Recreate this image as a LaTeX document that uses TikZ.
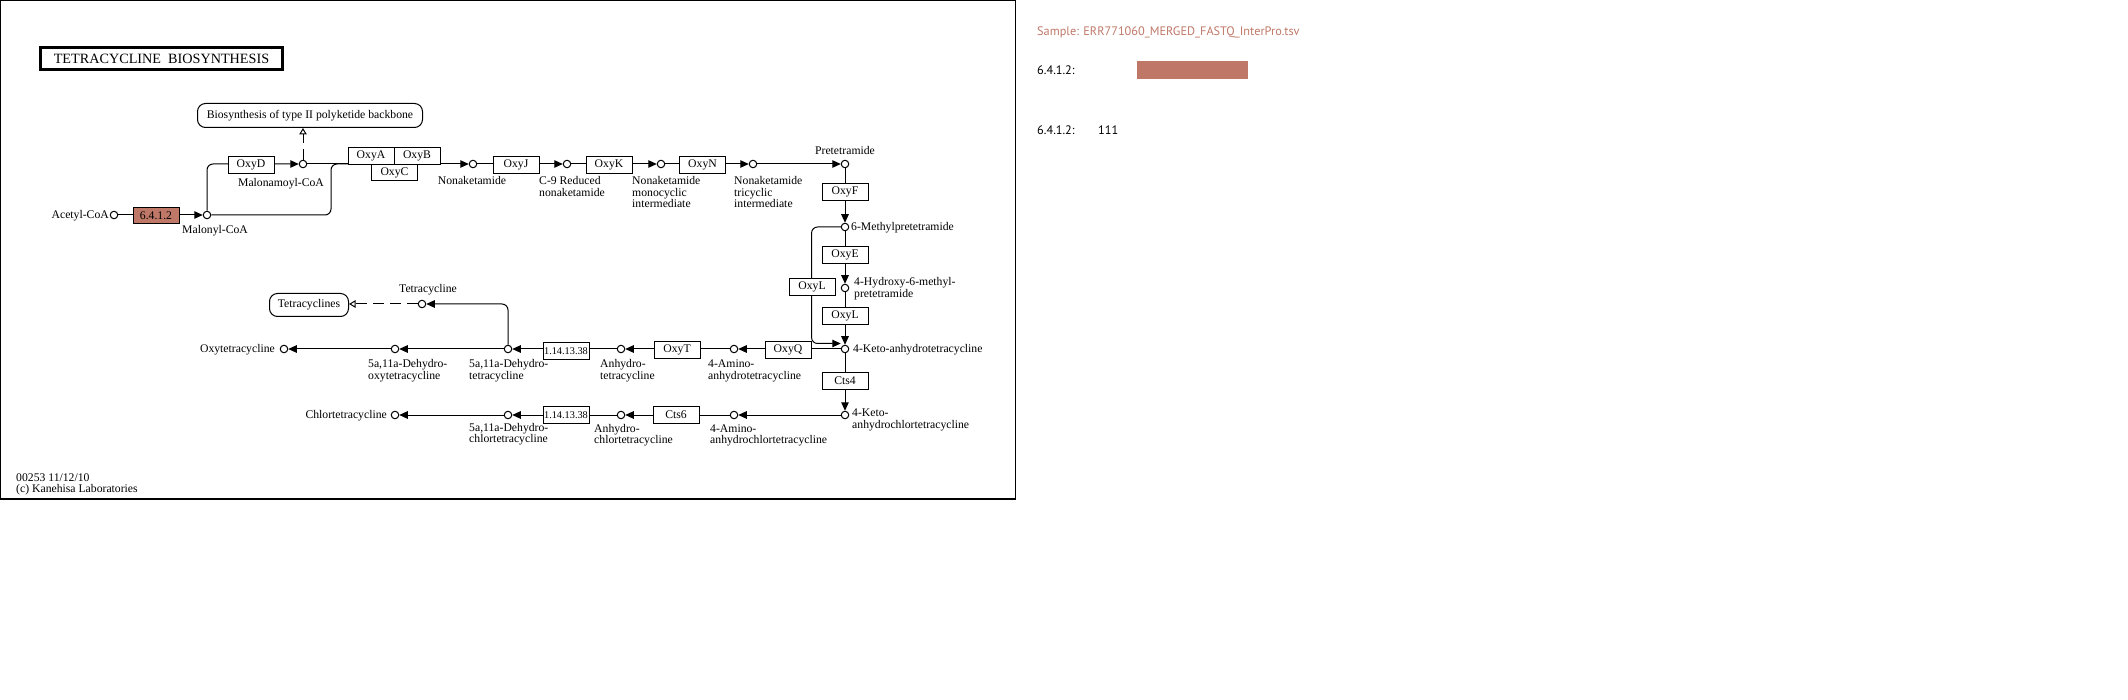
\documentclass[tikz,border=0pt]{standalone}
\usepackage{fontspec}
\setmainfont{Liberation Serif}
\newfontfamily\sansf{PT Sans}
\usetikzlibrary{arrows.meta,calc}
\definecolor{hit}{HTML}{BF7868}
\newcommand{\mltxt}[1]{\begin{tabular}[t]{@{}l@{}}#1\end{tabular}}
\begin{document}
\begin{tikzpicture}[x=1pt,y=-1pt,
  every node/.style={font=\fontsize{11.7}{10.8}\selectfont},
  cpd/.style={circle,draw,fill=white,line width=1pt,minimum size=7.5pt,inner sep=0pt},
  enz/.style={rectangle,draw,fill=white,text=black,line width=1pt,minimum width=46pt,minimum height=16.5pt,inner sep=0pt},
  mapbox/.style={rectangle,rounded corners=8pt,draw,fill=white,line width=1pt,inner sep=0pt},
  lbl/.style={inner sep=0pt},
  conn/.style={line width=1pt},
  arr/.style={conn,-{Triangle[length=8.5pt,width=7.5pt]}},
  maparr/.style={conn,dash pattern=on 11pt off 6pt,-{Triangle[open,length=6.5pt,width=7.5pt]}},
  side/.style={inner sep=0pt,anchor=base west,font=\sansf\fontsize{12.3}{14}\selectfont}
]
\useasboundingbox (0,0) rectangle (2128,700);
% frame
\draw[line width=1.3pt] (0.65,0.65) rectangle (1015.6,499);
% title
\node[draw,line width=3pt,minimum width=242pt,minimum height=22pt,inner sep=0pt,
      font=\fontsize{14.2}{16}\selectfont] (title) at (161.5,58.5) {TETRACYCLINE\ \ BIOSYNTHESIS};
% map nodes
\node[mapbox,minimum width=225pt,minimum height=24pt] (biomap) at (310,115.5) {Biosynthesis of type II polyketide backbone};
\node[mapbox,minimum width=79pt,minimum height=23pt] (tetmap) at (309,305) {Tetracyclines};
% compounds
\node[cpd] (acetyl) at (114,215) {};
\node[cpd] (malonyl) at (207,215) {};
\node[cpd] (malonamoyl) at (303,164) {};
\node[cpd] (nonak) at (473,164) {};
\node[cpd] (c9) at (567,164) {};
\node[cpd] (mono) at (661,164) {};
\node[cpd] (tri) at (753,164) {};
\node[cpd] (pretet) at (845,164) {};
\node[cpd] (methyl) at (845,227) {};
\node[cpd] (hydroxy) at (845,288) {};
\node[cpd] (keto) at (845,349) {};
\node[cpd] (ketochl) at (845,415) {};
\node[cpd] (amino) at (734,349) {};
\node[cpd] (anhydro) at (621,349) {};
\node[cpd] (dehydrotet) at (508,349) {};
\node[cpd] (dehydrooxy) at (395,349) {};
\node[cpd] (oxytet) at (284,349) {};
\node[cpd] (tetra) at (422,304) {};
\node[cpd] (aminochl) at (734,415) {};
\node[cpd] (anhydrochl) at (621,415) {};
\node[cpd] (dehydrochl) at (508,415) {};
\node[cpd] (chlortet) at (395,415) {};
\coordinate (j1) at (331,164);
\coordinate (j2) at (348,164);
% connectors
\draw[arr] (acetyl) -- (malonyl);
\draw[arr,rounded corners=6pt] (malonyl) |- (malonamoyl);
\draw[conn,rounded corners=6pt] (malonyl) -| (j1) -- (j2);
\draw[maparr] (malonamoyl) -- (malonamoyl |- biomap.south);
\draw[arr] (malonamoyl) -- (nonak);
\draw[arr] (nonak) -- (c9);
\draw[arr] (c9) -- (mono);
\draw[arr] (mono) -- (tri);
\draw[arr] (tri) -- (pretet);
\draw[arr] (pretet) -- (methyl);
\draw[arr] (methyl) -- (hydroxy);
\draw[arr] (hydroxy) -- (keto);
\draw[arr,rounded corners=6pt] (methyl) -| ([xshift=-29.2pt,yshift=5.5pt]keto.west) -- ([yshift=5.5pt]keto.west);
\draw[arr] (keto) -- (ketochl);
\draw[arr] (keto) -- (amino);
\draw[arr] (amino) -- (anhydro);
\draw[arr] (anhydro) -- (dehydrotet);
\draw[arr] (dehydrotet) -- (dehydrooxy);
\draw[arr] (dehydrooxy) -- (oxytet);
\draw[arr,rounded corners=6pt] (dehydrotet) |- (tetra);
\draw[maparr] (tetra) -- (tetra -| tetmap.east);
\draw[arr] (ketochl) -- (aminochl);
\draw[arr] (aminochl) -- (anhydrochl);
\draw[arr] (anhydrochl) -- (dehydrochl);
\draw[arr] (dehydrochl) -- (chlortet);
% enzymes
\node[enz,fill=hit] (e6412) at (156,215.5) {6.4.1.2};
\node[enz] (oxyD) at (251,165) {OxyD};
\node[enz] (oxyA) at (371,156) {OxyA};
\node[enz] (oxyB) at (417,156) {OxyB};
\node[enz] (oxyC) at (394.5,172.5) {OxyC};
\node[enz] (oxyJ) at (516,165) {OxyJ};
\node[enz] (oxyK) at (609,165) {OxyK};
\node[enz] (oxyN) at (702.5,165) {OxyN};
\node[enz] (oxyF) at (845,192) {OxyF};
\node[enz] (oxyE) at (845,255) {OxyE};
\node[enz] (oxyL1) at (812,287) {OxyL};
\node[enz] (oxyL2) at (845,316) {OxyL};
\node[enz] (cts4) at (845,381) {Cts4};
\node[enz] (oxyQ) at (788,350) {OxyQ};
\node[enz] (oxyT) at (677,350) {OxyT};
\node[enz,font=\fontsize{10.3}{12}\selectfont] (ec1) at (566,351) {1.14.13.38};
\node[enz] (cts6) at (676,415) {Cts6};
\node[enz,font=\fontsize{10.3}{12}\selectfont] (ec2) at (566,415) {1.14.13.38};
% compound labels
\node[lbl,anchor=base east] (lacetyl) at (109,219) {Acetyl-CoA};
\node[lbl,anchor=base west] (lmalonyl) at (182,234) {Malonyl-CoA};
\node[lbl,anchor=base] (lmalonamoyl) at (281,187) {Malonamoyl-CoA};
\node[lbl,anchor=base] (lnonak) at (472,185) {Nonaketamide};
\node[lbl,anchor=base west] (lc9) at (539,185) {\mltxt{C-9 Reduced\\nonaketamide}};
\node[lbl,anchor=base west] (lmono) at (632,185) {\mltxt{Nonaketamide\\monocyclic\\intermediate}};
\node[lbl,anchor=base west] (ltri) at (734,185) {\mltxt{Nonaketamide\\tricyclic\\intermediate}};
\node[lbl,anchor=base] (lpretet) at (845,155) {Pretetramide};
\node[lbl,anchor=base west] (lmethyl) at (851,231) {6-Methylpretetramide};
\node[lbl,anchor=base west] (lhydroxy) at (854,286) {\mltxt{4-Hydroxy-6-methyl-\\pretetramide}};
\node[lbl,anchor=base west] (lketo) at (853,353) {4-Keto-anhydrotetracycline};
\node[lbl,anchor=base west] (lketochl) at (852,417) {\mltxt{4-Keto-\\anhydrochlortetracycline}};
\node[lbl,anchor=base west] (lamino) at (708,368) {\mltxt{4-Amino-\\anhydrotetracycline}};
\node[lbl,anchor=base west] (lanhydro) at (600,368) {\mltxt{Anhydro-\\tetracycline}};
\node[lbl,anchor=base west] (ldehydrotet) at (469,368) {\mltxt{5a,11a-Dehydro-\\tetracycline}};
\node[lbl,anchor=base west] (ldehydrooxy) at (368,368) {\mltxt{5a,11a-Dehydro-\\oxytetracycline}};
\node[lbl,anchor=base east] (loxytet) at (275,353) {Oxytetracycline};
\node[lbl,anchor=base] (ltetra) at (428,293) {Tetracycline};
\node[lbl,anchor=base east] (lchlortet) at (387,418) {Chlortetracycline};
\node[lbl,anchor=base west] (ldehydrochl) at (469,431) {\mltxt{5a,11a-Dehydro-\\chlortetracycline}};
\node[lbl,anchor=base west] (lanhydrochl) at (594,432) {\mltxt{Anhydro-\\chlortetracycline}};
\node[lbl,anchor=base west] (laminochl) at (710,432) {\mltxt{4-Amino-\\anhydrochlortetracycline}};
% footer
\node[lbl,anchor=base west] (foot1) at (16,481) {00253 11/12/10};
\node[lbl,anchor=base west] (foot2) at (16,492.5) {(c) Kanehisa Laboratories};
% side panel
\node[side,text=hit] (sample) at (1037,35.5) {Sample: ERR771060\_MERGED\_FASTQ\_InterPro.tsv};
\node[side] (k1) at (1037,74.5) {6.4.1.2:};
\node[fill=hit,minimum width=111pt,minimum height=18pt,inner sep=0pt] (bar) at (1192.5,70) {};
\node[side] (k2) at (1037,134.5) {6.4.1.2:};
\node[side] (v2) at (1098,134.5) {111};
\end{tikzpicture}
\end{document}
